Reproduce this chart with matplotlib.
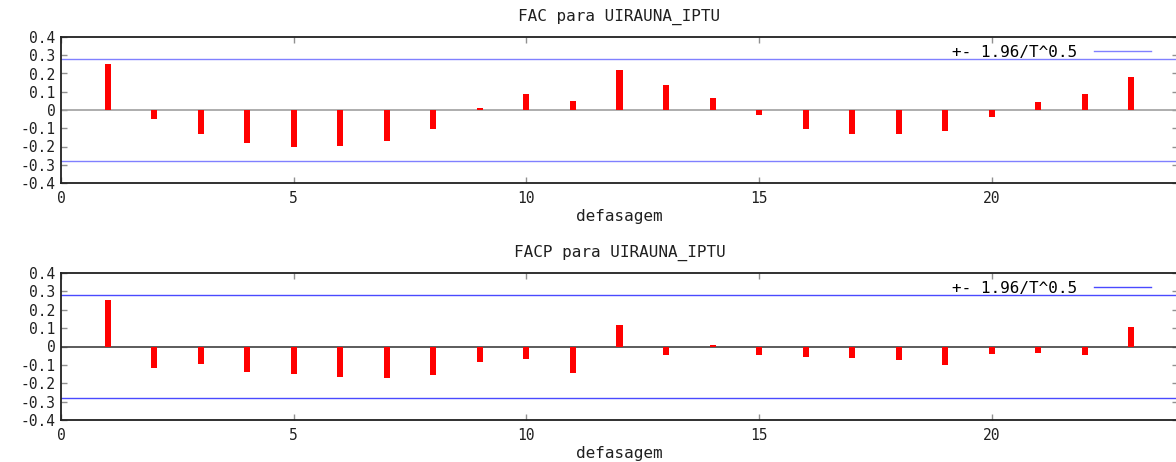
import matplotlib
matplotlib.use("Agg")
import matplotlib.pyplot as plt
import numpy as np

lags = list(range(1, 24))
acf = [0.25, -0.047, -0.13, -0.18, -0.20, -0.195, -0.168, -0.106, 0.011, 0.088,
       0.047, 0.221, 0.139, 0.066, -0.029, -0.104, -0.133, -0.13, -0.117, -0.038,
       0.042, 0.088, 0.183]
pacf = [0.253, -0.118, -0.094, -0.138, -0.151, -0.166, -0.173, -0.157, -0.087, -0.070,
        -0.144, 0.116, -0.044, 0.009, -0.046, -0.059, -0.065, -0.074, -0.098, -0.041,
        -0.033, -0.048, 0.105]
band = 0.28
titles = ["FAC para UIRAUNA_IPTU", "FACP para UIRAUNA_IPTU"]
xlabel = "defasagem"
legend_label = "+- 1.96/T^0.5"
yticks = [-0.4, -0.3, -0.2, -0.1, 0, 0.1, 0.2, 0.3, 0.4]
yticklabels = ["-0.4", "-0.3", "-0.2", "-0.1", "0", "0.1", "0.2", "0.3", "0.4"]
xticks = [0, 5, 10, 15, 20]

plt.rcParams['font.family'] = ['DejaVu Sans Mono', 'DejaVu Sans']
W, H = 1176, 462
fig = plt.figure(figsize=(W / 100, H / 100), dpi=100)

def px_axes(left, top, right, bottom):
    return fig.add_axes([left / W, 1 - bottom / H, (right - left) / W, (bottom - top) / H])

axes_boxes = [(61, 37, 1178, 183), (61, 273, 1178, 420)]
band_colors = ["#8080ff", "#4a4aff"]
zero_colors = ["#a0a0a0", "#404040"]
series = [acf, pacf]
fs = 10.5
fs_t = 11.5

for i, ax in enumerate([px_axes(*b) for b in axes_boxes]):
    vals = series[i]
    ax.bar(lags, vals, width=0.13, color="#ff0000", zorder=3)
    ax.axhline(0, color=zero_colors[i], lw=1.2, zorder=2)
    ax.axhline(band, color=band_colors[i], lw=1.0, zorder=2)
    ax.axhline(-band, color=band_colors[i], lw=1.0, zorder=2, label=legend_label)
    ax.set_xlim(0, 24)
    ax.set_ylim(-0.4, 0.4)
    ax.set_xticks(xticks)
    ax.set_yticks(yticks)
    ax.set_yticklabels(yticklabels)
    ax.tick_params(axis='both', direction='in', length=4, width=1, colors='#909090',
                   labelcolor='#202020', labelsize=fs, top=True, right=True)
    ax.tick_params(axis='y', pad=4)
    ax.tick_params(axis='x', pad=6)
    for s in ax.spines.values():
        s.set_linewidth(1.3)
        s.set_color('#202020')
    ax.set_title(titles[i], fontsize=fs_t, pad=12, color='#202020')
    ax.set_xlabel(xlabel, fontsize=fs_t, labelpad=2, color='#202020')
    leg = ax.legend(loc='upper right', frameon=False, fontsize=fs_t, handlelength=3.6,
                    handletextpad=1.0, borderaxespad=0.1, markerfirst=False,
                    bbox_to_anchor=(0.983, 1.0))

fig.savefig("out.png", dpi=100)
